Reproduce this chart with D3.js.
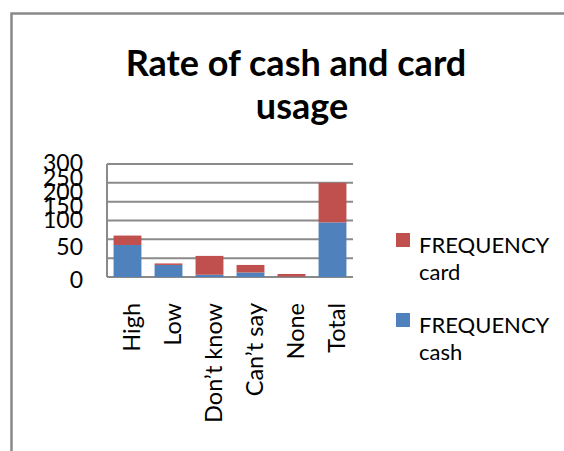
<!DOCTYPE html>
<meta charset="utf-8" />
<script src="https://d3js.org/d3.v7.min.js"></script>
<style>
  body { margin: 0; background: #fff; }
  text { font-family: Lato, "Open Sans", sans-serif; fill: #000; }
</style>
<div id="chart"></div>
<script>
  // data
  var categories = ["High", "Low", "Don\u2019t know", "Can\u2019t say", "None", "Total"];
  var cashValues = [85, 32, 6, 12, 1, 145];
  var cardValues = [25, 4, 50, 20, 7, 105];
  var yTicks = [0, 50, 100, 150, 200, 250, 300];
  var seriesNames = ["FREQUENCY card", "FREQUENCY cash"];
  var seriesColors = ["#C0504D", "#4F81BD"];

  var W = 564, H = 451;
  var plot = { left: 107, right: 353, top: 164, bottom: 277 };

  var svg = d3.select("#chart").append("svg")
    .attr("width", W).attr("height", H);

  // outer frame (runs off the right and bottom)
  svg.append("rect")
    .attr("x", 11.5).attr("y", 13.5)
    .attr("width", 700).attr("height", 600)
    .attr("fill", "#fff")
    .attr("stroke", "#898989").attr("stroke-width", 2.5);

  var x = d3.scaleBand().domain(categories)
    .range([plot.left, plot.right]).paddingInner(0.32).paddingOuter(0.16);
  var y = d3.scaleLinear().domain([0, 300]).range([plot.bottom, plot.top]);

  // title
  var title = svg.append("text")
    .attr("text-anchor", "middle")
    .style("font-weight", "bold").style("font-size", "36px");
  title.append("tspan").attr("x", 296).attr("y", 76).text("Rate of cash and card");
  title.append("tspan").attr("x", 302).attr("y", 119).text("usage");

  // gridlines
  svg.append("g").selectAll("line").data(yTicks).join("line")
    .attr("x1", plot.left).attr("x2", plot.right)
    .attr("y1", d => y(d)).attr("y2", d => y(d))
    .attr("stroke", "#8a8a8a").attr("stroke-width", 2);

  // left axis line
  svg.append("line")
    .attr("x1", plot.left).attr("x2", plot.left)
    .attr("y1", plot.top).attr("y2", plot.bottom)
    .attr("stroke", "#8a8a8a").attr("stroke-width", 2);

  // y tick labels (squeezed at the top like the original)
  var labelY = d3.scaleLinear().domain([0, 50, 100, 300]).range([280, 247, 220, 163]);
  svg.append("g").selectAll("text").data(yTicks).join("text")
    .attr("x", 83).attr("y", d => labelY(d))
    .attr("dy", "0.36em")
    .attr("text-anchor", "end")
    .style("font-size", "23px")
    .text(d => d);

  // stacked bars
  var rows = categories.map((c, i) => ({ cat: c, cash: cashValues[i], card: cardValues[i] }));
  var stack = d3.stack().keys(["cash", "card"])(rows);
  var colorOf = { cash: seriesColors[1], card: seriesColors[0] };

  svg.append("g").selectAll("g").data(stack).join("g")
    .attr("fill", d => colorOf[d.key])
    .selectAll("rect").data(d => d).join("rect")
    .attr("x", d => x(d.data.cat))
    .attr("width", x.bandwidth())
    .attr("y", d => y(d[1]))
    .attr("height", d => y(d[0]) - y(d[1]));

  // category labels
  svg.append("g").selectAll("text").data(categories).join("text")
    .attr("transform", d => "translate(" + (x(d) + x.bandwidth() / 2 + 4) + ",303) rotate(-90)")
    .attr("dy", "0.36em")
    .attr("text-anchor", "end")
    .style("font-size", "23.5px")
    .text(d => d);

  // legend
  var legend = svg.append("g").selectAll("g").data(seriesNames).join("g")
    .attr("transform", (d, i) => "translate(396," + (233 + i * 80) + ")");
  legend.append("rect")
    .attr("width", 14).attr("height", 14)
    .attr("fill", (d, i) => seriesColors[i]);
  var lt = legend.append("text").style("font-size", "22px");
  lt.append("tspan").attr("x", 23).attr("y", 20).text(d => d.split(" ")[0]);
  lt.append("tspan").attr("x", 23).attr("y", 47).text(d => d.split(" ")[1]);
</script>
